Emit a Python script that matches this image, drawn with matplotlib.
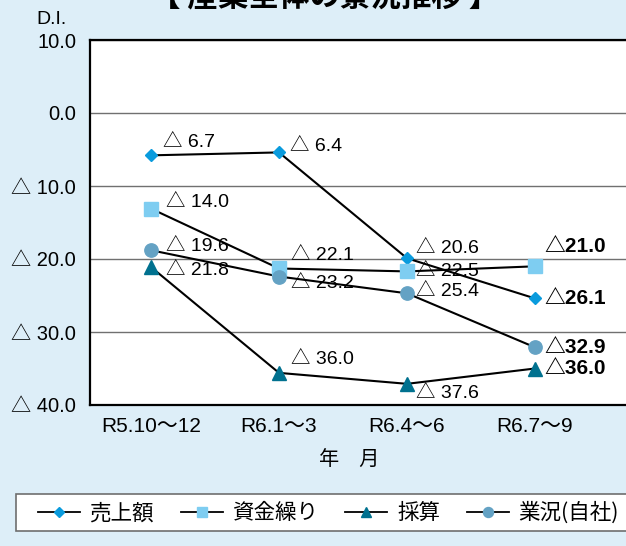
import matplotlib
matplotlib.use("Agg")
import matplotlib.pyplot as plt
from matplotlib.lines import Line2D
from matplotlib.patches import Rectangle

# ---------------------------------------------------------------- DATA
periods = ["R5.10～12", "R6.1～3", "R6.4～6", "R6.7～9"]
series_names = ["売上額", "資金繰り", "採算", "業況(自社)"]

uriage = [-5.8, -5.4, -19.9, -25.4]
shikin = [-13.1, -21.3, -21.7, -21.0]
saisan = [-21.1, -35.6, -37.1, -35.0]
gyokyo = [-18.8, -22.4, -24.7, -32.1]

uriage_lbl = ["△ 6.7", "△ 6.4", "△ 20.6", "△26.1"]
shikin_lbl = ["△ 14.0", "△ 22.1", "△ 22.5", "△21.0"]
saisan_lbl = ["△ 21.8", "△ 36.0", "△ 37.6", "△36.0"]
gyokyo_lbl = ["△ 19.6", "△ 23.2", "△ 25.4", "△32.9"]

y_ticks = [10, 0, -10, -20, -30, -40]
y_tick_lbl = ["10.0", "0.0", "△ 10.0", "△ 20.0", "△ 30.0", "△ 40.0"]

# ---------------------------------------------------------------- STYLE
BG = "#DDEEF8"
C_URI = "#0A9BDD"
C_SHI = "#7ECDF1"
C_SAI = "#00718F"
C_GYO = "#64A2C4"
FONT = ["Liberation Sans", "Noto Sans CJK JP", "DejaVu Sans"]
JP = ["Noto Sans CJK JP", "DejaVu Sans"]

# label offsets in pixels (dx, dy up) per series / period
off_uri = [(12, 13), (11, 6), (9, 10), (9, 0)]
off_shi = [(15, 6), (12, 13), (9, 0), (9, 20)]
off_sai = [(15, -3), (12, 13), (9, -10), (9, 0)]
off_gyo = [(15, 4), (12, -7), (9, 2), (9, 0)]

W, H = 626, 546
fig = plt.figure(figsize=(W / 100, H / 100), dpi=100, facecolor=BG)
ax = fig.add_axes([90 / W, 1 - 405 / H, 1 - 90 / W, (405 - 40) / H])
ax.set_facecolor("white")

x = list(range(len(periods)))
series = [
    (uriage, uriage_lbl, off_uri, C_URI, "D", 6.6),
    (shikin, shikin_lbl, off_shi, C_SHI, "s", 9.4),
    (saisan, saisan_lbl, off_sai, C_SAI, "^", 9.6),
    (gyokyo, gyokyo_lbl, off_gyo, C_GYO, "o", 9.6),
]

handles = []
for (vals, lbls, offs, col, mk, ms), name in zip(series, series_names):
    ax.plot(x, vals, color="black", lw=1.5, zorder=3)
    ax.plot(x, vals, ls="none", marker=mk, ms=ms, mfc=col, mec=col, zorder=4)
    for i, (v, t, o) in enumerate(zip(vals, lbls, offs)):
        last = i == len(vals) - 1
        ax.annotate(t, (i, v), xytext=o, textcoords="offset pixels",
                    ha="left", va="center", family=FONT,
                    fontsize=15 if last else 14,
                    fontweight="bold" if last else "normal", zorder=2)
    handles.append(Line2D([], [], color="black", lw=1.3, marker=mk,
                          ms=ms * 0.75, mfc=col, mec=col, label=name))

ax.set_ylim(-40, 10)
ax.set_xlim((90 - 151) / 128, (W - 151) / 128)
ax.set_yticks(y_ticks)
ax.set_yticklabels(y_tick_lbl, family=FONT, fontsize=14.5)
ax.set_xticks(x)
ax.set_xticklabels(periods, family=FONT, fontsize=15)
ax.tick_params(axis="y", length=0, pad=10)
ax.tick_params(axis="x", length=0, pad=9)
ax.grid(axis="y", color="#707070", lw=1.0)
ax.set_axisbelow(True)
for s in ["left", "bottom", "top"]:
    ax.spines[s].set_color("black")
    ax.spines[s].set_linewidth(1.6)
ax.spines["right"].set_visible(False)

fig.text(52 / W, 1 - 19 / H, "D.I.", family=FONT, fontsize=14,
         ha="center", va="center")
fig.text(349 / W, 1 - 460 / H, "年　月", family=JP, fontsize=14.5,
         ha="center", va="center")
fig.text(325 / W, 1 - 12 / H, "【 産業全体の景況推移 】", family=JP,
         fontsize=22, fontweight="bold", ha="center", va="bottom")

# legend box
fig.patches.append(Rectangle((16 / W, 15 / H), (W + 20 - 16) / W, 37 / H,
                             transform=fig.transFigure, facecolor="white",
                             edgecolor="#6E6E6E", lw=1.2))
fig.legend(handles=handles, loc="center left", ncol=4,
           bbox_to_anchor=(27 / W, 1 - 513 / H), frameon=False,
           prop={"family": JP, "size": 15.5}, handlelength=1.95,
           handletextpad=0.45, columnspacing=1.25, borderpad=0)

fig.savefig("out.png", dpi=100, facecolor=BG)
